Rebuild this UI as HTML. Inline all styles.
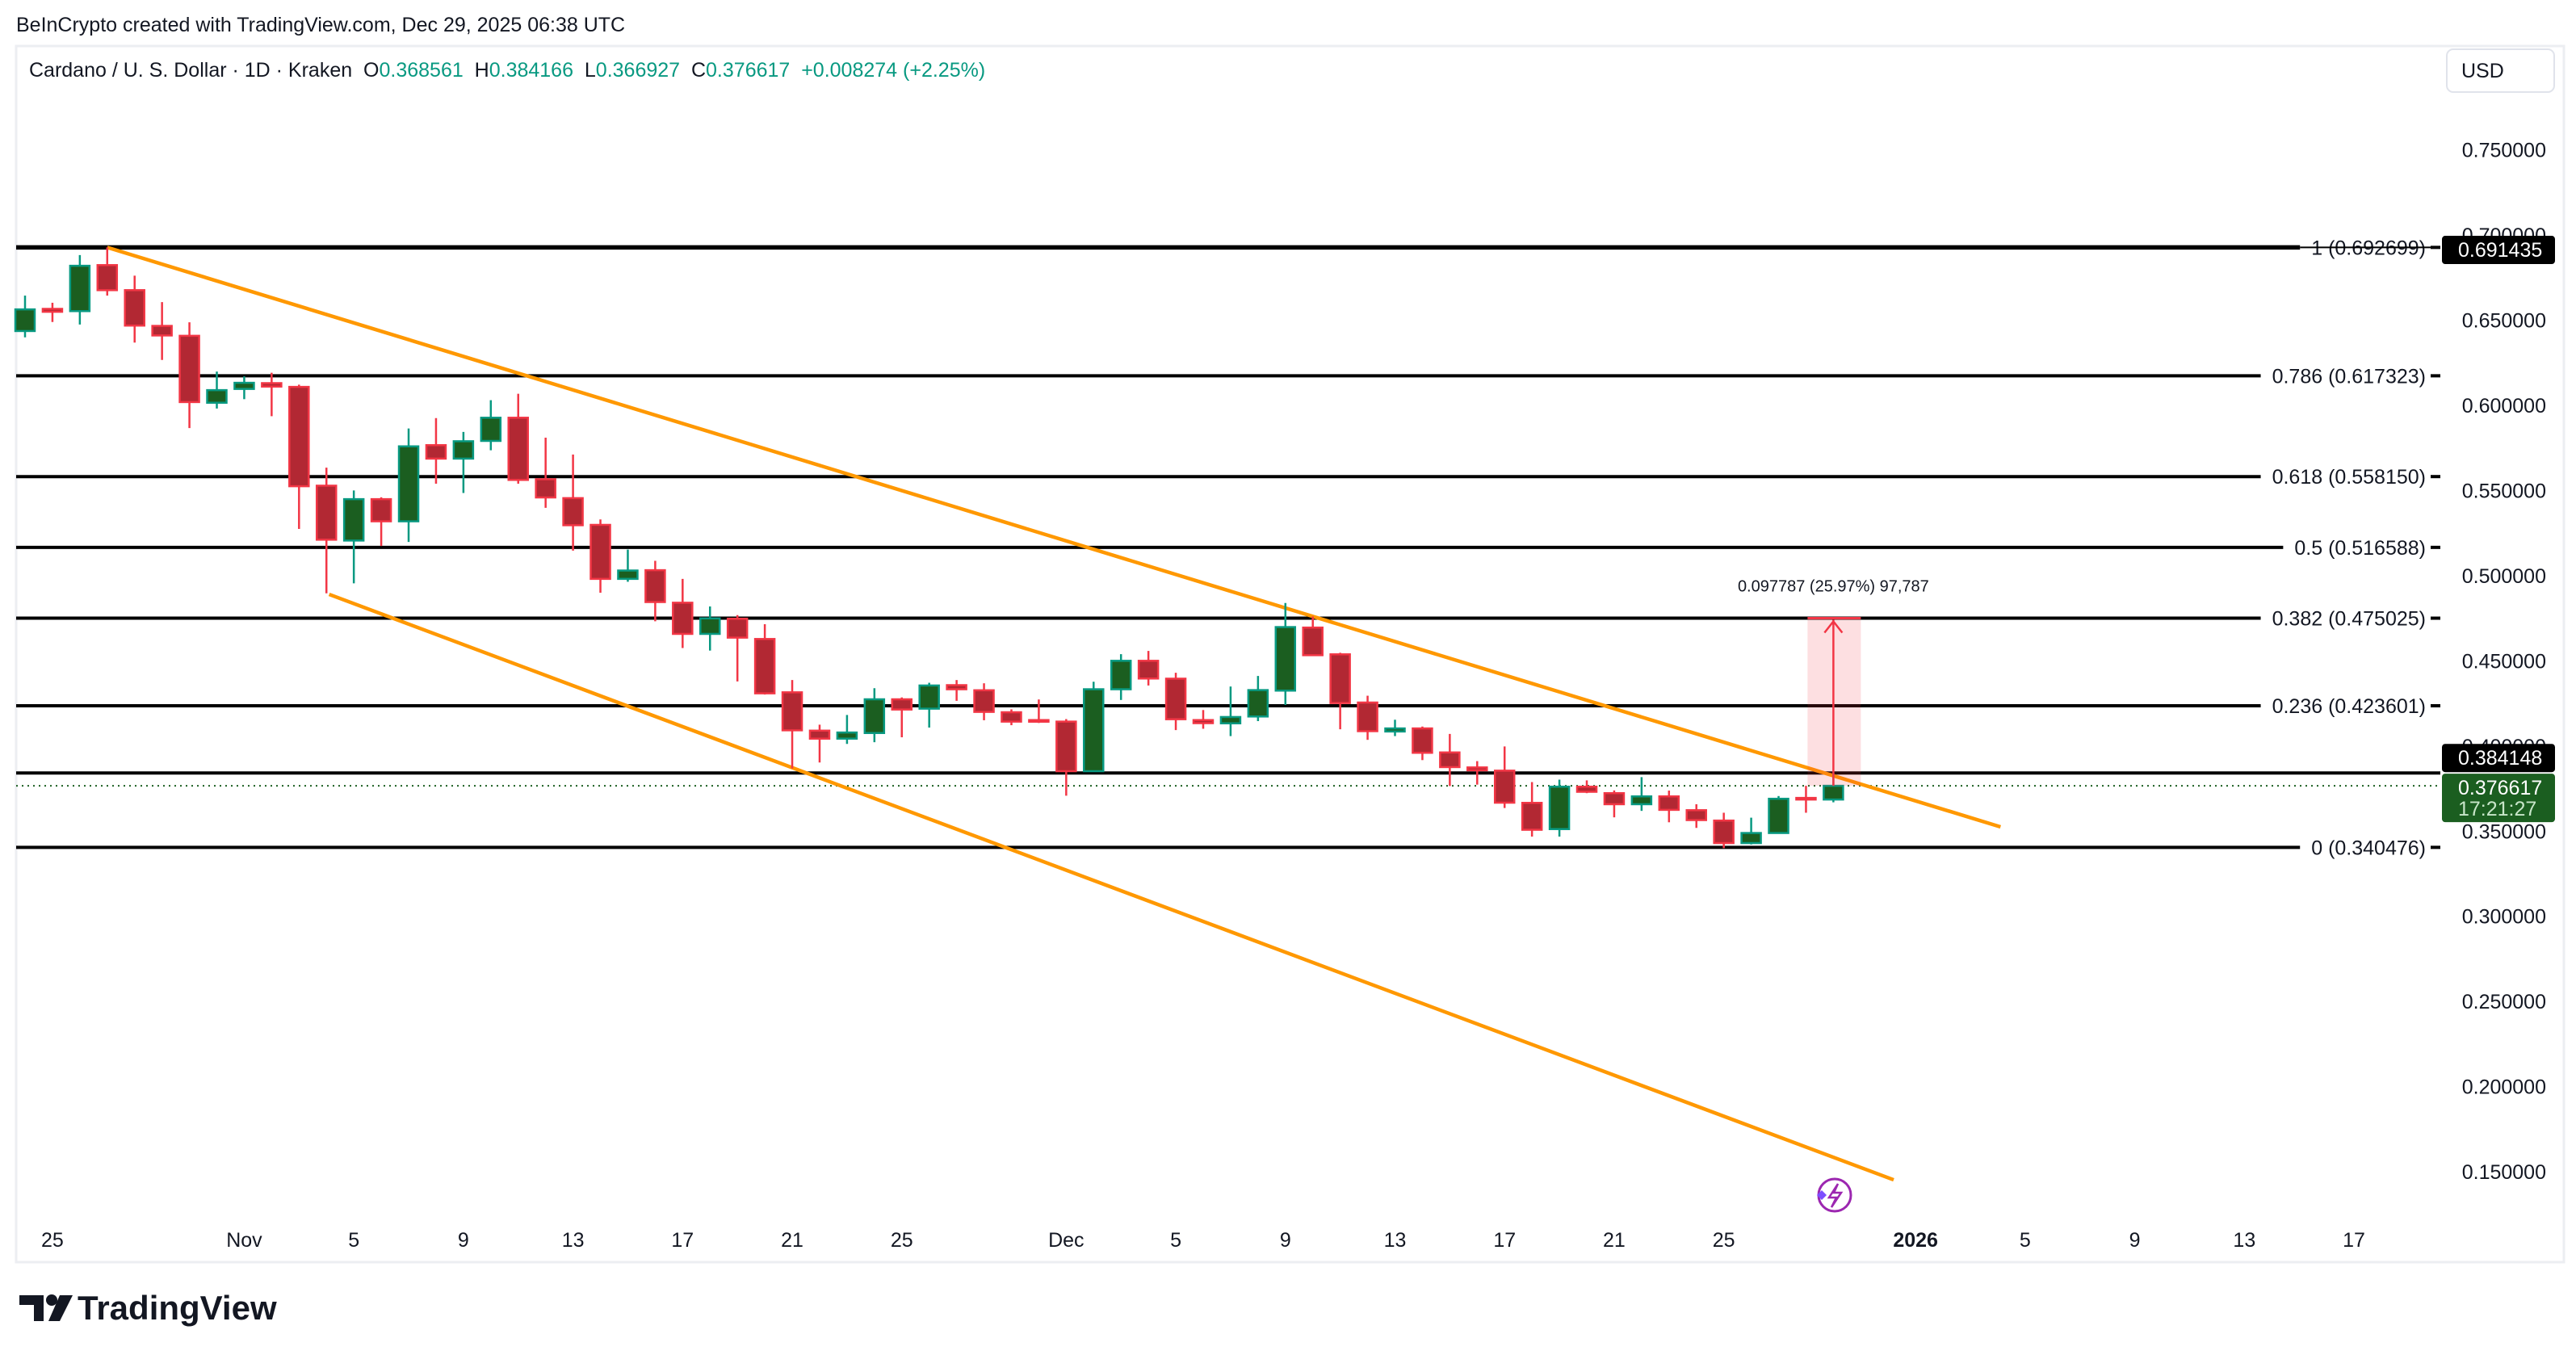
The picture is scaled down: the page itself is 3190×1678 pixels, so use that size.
<!DOCTYPE html>
<html><head><meta charset="utf-8"><style>
html,body{margin:0;padding:0;background:#fff;}
body{width:3190px;height:1678px;overflow:hidden;position:relative;font-family:"Liberation Sans",sans-serif;}
svg{position:absolute;left:0;top:0;}
</style></head><body>
<svg id="chart" width="3190" height="1678" viewBox="0 0 3190 1678" xmlns="http://www.w3.org/2000/svg">
<rect x="0" y="0" width="3190" height="1678" fill="#ffffff"/>
<text x="20" y="39" font-size="25" fill="#131722">BeInCrypto created with TradingView.com, Dec 29, 2025 06:38 UTC</text>
<rect x="20" y="57" width="3155" height="1506" fill="none" stroke="#eceef2" stroke-width="3"/>
<text x="36" y="95" font-size="25" style="white-space:pre" xml:space="preserve"><tspan fill="#131722">Cardano / U. S. Dollar · 1D · Kraken  O</tspan><tspan fill="#089981">0.368561</tspan><tspan fill="#131722">  H</tspan><tspan fill="#089981">0.384166</tspan><tspan fill="#131722">  L</tspan><tspan fill="#089981">0.366927</tspan><tspan fill="#131722">  C</tspan><tspan fill="#089981">0.376617  +0.008274 (+2.25%)</tspan></text>
<g><rect x="3030" y="61" width="133" height="53" rx="8" fill="#fff" stroke="#e0e3eb" stroke-width="2"/><text x="3048" y="96" font-size="25" fill="#131722">USD</text></g>
<g id="grid"></g><g id="fib"></g><g id="trend"></g><g id="candles"></g><g id="axis"></g><g id="xaxis"></g><g id="overlay"></g>
<g>
<path d="M24 1604 h30 v32 h-12 v-20 h-18 z" fill="#131722"/><circle cx="64" cy="1610" r="7" fill="#131722"/><path d="M74 1604 h16 l-16 32 h-14 z" fill="#131722"/>
<text x="96" y="1634" font-size="42" font-weight="bold" fill="#131722">TradingView</text></g>
</svg>
<script>
const dates=["Oct24","Oct25","Oct26","Oct27","Oct28","Oct29","Oct30","Oct31","Nov1","Nov2","Nov3","Nov4","Nov5","Nov6","Nov7","Nov8","Nov9","Nov10","Nov11","Nov12","Nov13","Nov14","Nov15","Nov16","Nov17","Nov18","Nov19","Nov20","Nov21","Nov22","Nov23","Nov24","Nov25","Nov26","Nov27","Nov28","Nov29","Nov30","Dec1","Dec2","Dec3","Dec4","Dec5","Dec6","Dec7","Dec8","Dec9","Dec10","Dec11","Dec12","Dec13","Dec14","Dec15","Dec16","Dec17","Dec18","Dec19","Dec20","Dec21","Dec22","Dec23","Dec24","Dec25","Dec26","Dec27","Dec28","Dec29"];
const opens=[0.6436,0.6566,0.6553,0.6823,0.6676,0.6466,0.6408,0.6015,0.6096,0.6130,0.6108,0.5528,0.5206,0.5449,0.5319,0.5766,0.5687,0.5791,0.5927,0.5566,0.5455,0.5298,0.4981,0.5032,0.4841,0.4658,0.4747,0.4628,0.4315,0.4090,0.4043,0.4076,0.4274,0.4219,0.4357,0.4327,0.4198,0.4152,0.4143,0.3852,0.4333,0.4500,0.4395,0.4152,0.4133,0.4173,0.4325,0.4695,0.4538,0.4255,0.4085,0.4103,0.3962,0.3874,0.3855,0.3666,0.3512,0.3761,0.3723,0.3658,0.3704,0.3623,0.3562,0.3430,0.3489,0.3695,0.368561];
const highs=[0.6644,0.6602,0.6882,0.6927,0.6761,0.6606,0.6487,0.6198,0.6170,0.6191,0.6121,0.5634,0.5500,0.5460,0.5864,0.5925,0.5844,0.6030,0.6068,0.5810,0.5711,0.5330,0.5153,0.5087,0.4981,0.4819,0.4768,0.4715,0.4387,0.4125,0.4182,0.4339,0.4285,0.4371,0.4387,0.4368,0.4215,0.4273,0.4158,0.4377,0.4539,0.4558,0.4430,0.4211,0.4349,0.4411,0.4839,0.4760,0.4547,0.4295,0.4154,0.4114,0.4071,0.3911,0.3997,0.3788,0.3802,0.3798,0.3739,0.3817,0.3738,0.3658,0.3608,0.3579,0.3706,0.3766,0.384166];
const lows=[0.6399,0.6489,0.6474,0.6644,0.6368,0.6266,0.5866,0.5981,0.6036,0.5936,0.5274,0.4896,0.4955,0.5174,0.5198,0.5540,0.5485,0.5736,0.5540,0.5398,0.5147,0.4900,0.4964,0.4732,0.4575,0.4560,0.4379,0.4302,0.3868,0.3903,0.4012,0.4022,0.4051,0.4108,0.4265,0.4151,0.4122,0.4135,0.3708,0.3850,0.4270,0.4355,0.4093,0.4101,0.4058,0.4146,0.4241,0.4533,0.4098,0.4036,0.4058,0.3917,0.3765,0.3773,0.3636,0.3468,0.3468,0.3723,0.3581,0.3619,0.3552,0.3519,0.3400,0.3422,0.3489,0.3608,0.366927];
const closes=[0.6563,0.6549,0.6819,0.6676,0.6468,0.6410,0.6019,0.6089,0.6132,0.6110,0.5525,0.5211,0.5449,0.5319,0.5759,0.5687,0.5789,0.5927,0.5562,0.5459,0.5296,0.4981,0.5030,0.4845,0.4658,0.4749,0.4636,0.4309,0.4092,0.4043,0.4079,0.4274,0.4214,0.4355,0.4333,0.4200,0.4143,0.4146,0.3852,0.4333,0.4500,0.4396,0.4157,0.4134,0.4170,0.4328,0.4698,0.4533,0.4252,0.4087,0.4103,0.3960,0.3876,0.3857,0.3667,0.3508,0.3761,0.3731,0.3658,0.3704,0.3625,0.3565,0.3430,0.3489,0.3690,0.3686,0.376617];
const priceTicks=[0.75,0.70,0.65,0.60,0.55,0.50,0.45,0.40,0.35,0.30,0.25,0.20,0.15];
const fibRatios=["1","0.786","0.618","0.5","0.382","0.236","0"];
const fibPrices=[0.692699,0.617323,0.558150,0.516588,0.475025,0.423601,0.340476];
const xTickLabels=["25","Nov","5","9","13","17","21","25","Dec","5","9","13","17","21","25","2026","5","9","13","17"];
const xTickDays=[1,8,12,16,20,24,28,32,38,42,46,50,54,58,62,69,73,77,81,85];
const upperTrend=[{d:3,p:0.6927},{d:72.1,p:0.3525}];
const lowerTrend=[{d:11.1,p:0.4890},{d:68.2,p:0.1453}];
const hLinePrice=0.384148, lastClose=0.376617, highBadge=0.691435;
const measureFrom=0.376617, measureTo=0.475025;

const NS="http://www.w3.org/2000/svg";
const xs=d=>31+d*33.93;
const ys=p=>185.5+(0.75-p)*2109.4;
function mk(tag,attrs,parent){const e=document.createElementNS(NS,tag);for(const k in attrs)e.setAttribute(k,attrs[k]);parent.appendChild(e);return e;}
const g=id=>document.getElementById(id);

priceTicks.forEach(p=>{const t=mk('text',{x:3153,y:ys(p)+9,'font-size':25,'text-anchor':'end',fill:'#131722'},g('axis'));


t.textContent=p.toFixed(6);});

fibPrices.forEach((p,i)=>{const y=ys(p);
const t=mk('text',{x:3004,y:y+9,'font-size':25,'text-anchor':'end',fill:'#131722'},g('fib'));


t.textContent=fibRatios[i]+' ('+p.toFixed(6)+')';
const w=t.getComputedTextLength?t.getComputedTextLength():200;
const l=mk('line',{x1:20,x2:3004-w-14,y1:y,y2:y,stroke:'#000',"stroke-width":i==0?5.5:4},g('fib'));


const tk=mk('line',{x1:3010,x2:3022,y1:y,y2:y,stroke:'#000','stroke-width':4},g('fib'));


if(i==0){const th=mk('line',{x1:3004-w-14,x2:3010,y1:y,y2:y,stroke:'#000','stroke-width':2},g('fib'));

}
});
const hl=mk('line',{x1:20,x2:3022,y1:ys(hLinePrice),y2:ys(hLinePrice),stroke:'#000','stroke-width':4},g('fib'));


const dl=mk('line',{x1:20,x2:3022,y1:ys(lastClose),y2:ys(lastClose),stroke:'#1b5e20','stroke-width':2,'stroke-dasharray':'2 5'},g('fib'));



[[upperTrend,'upper-trendline'],[lowerTrend,'lower-trendline']].forEach(([tr,name])=>{
const l=mk('line',{x1:xs(tr[0].d),y1:ys(tr[0].p),x2:xs(tr[1].d),y2:ys(tr[1].p),stroke:'#ff9800','stroke-width':4.5},g('trend'));

});

const bw=24;
dates.forEach((d,i)=>{const up=closes[i]>=opens[i];const x=xs(i);
const edge=up?'#089981':'#f23645', fill=up?'#1b5e20':'#b22833';
const grp=mk('g',{},g('candles'));


mk('line',{x1:x,x2:x,y1:ys(highs[i]),y2:ys(lows[i]),stroke:edge,'stroke-width':2.5},grp);
const top=ys(Math.max(opens[i],closes[i])),bot=ys(Math.min(opens[i],closes[i]));
mk('rect',{x:x-bw/2,y:top,width:bw,height:Math.max(bot-top,2),fill:fill,stroke:edge,'stroke-width':2.5},grp);
});

const mx=xs(66), mt=ys(measureTo), mb=ys(measureFrom);
const mr=mk('rect',{x:mx-32,y:mt,width:66,height:mb-mt,fill:'#f23645','fill-opacity':0.16},g('overlay'));


const ml=mk('line',{x1:mx-32,x2:mx+34,y1:mt,y2:mt,stroke:'#f23645','stroke-width':3},g('overlay'));


const ma=mk('path',{d:`M${mx} ${mb} V${mt+2} M${mx-11} ${mt+18} L${mx} ${mt+4} L${mx+11} ${mt+18}`,stroke:'#f23645','stroke-width':2.5,fill:'none'},g('overlay'));


const mtx=mk('text',{x:mx,y:mt-33,'font-size':20,'text-anchor':'middle',fill:'#131722'},g('overlay'));


mtx.textContent='0.097787 (25.97%) 97,787';

function badge(p,txt,bg,off,name){const y=ys(p);const grp=mk('g',{},g('overlay'));


mk('rect',{x:3024,y:y-17+off,width:140,height:35,rx:4,fill:bg},grp);
const t=mk('text',{x:3044,y:y+9+off,'font-size':25,fill:'#fff'},grp);t.textContent=txt;}
badge(highBadge,'0.691435','#000',0,'high-price-badge');
badge(hLinePrice,'0.384148','#000',-19,'line-price-badge');
{const y=ys(lastClose);const grp=mk('g',{},g('overlay'));


mk('rect',{x:3024,y:y-15,width:140,height:60,rx:4,fill:'#1b5e20'},grp);
const t1=mk('text',{x:3044,y:y+11,'font-size':25,fill:'#fff'},grp);t1.textContent='0.376617';
const t2=mk('text',{x:3044,y:y+37,'font-size':25,fill:'#c8e6c9'},grp);t2.textContent='17:21:27';}

xTickLabels.forEach((s,i)=>{const t=mk('text',{x:xs(xTickDays[i]),y:1544,'font-size':25,'text-anchor':'middle',fill:'#131722','font-weight':s==='2026'?'bold':'normal'},g('xaxis'));


t.textContent=s;});

const ic=mk('g',{},g('overlay'));


mk('circle',{cx:2272,cy:1480,r:20,fill:'#fff',stroke:'#9c27b0','stroke-width':3},ic);
mk('path',{d:'M2276 1466 L2265 1483 L2274 1483 L2268 1495 L2280 1477 L2271 1477 Z',fill:'none',stroke:'#9c27b0','stroke-width':2.5},ic);
mk('path',{d:'M2250 1480 l6 -6 l6 6 l-6 6 z',fill:'#7c4dff'},ic);
</script>
</body></html>
